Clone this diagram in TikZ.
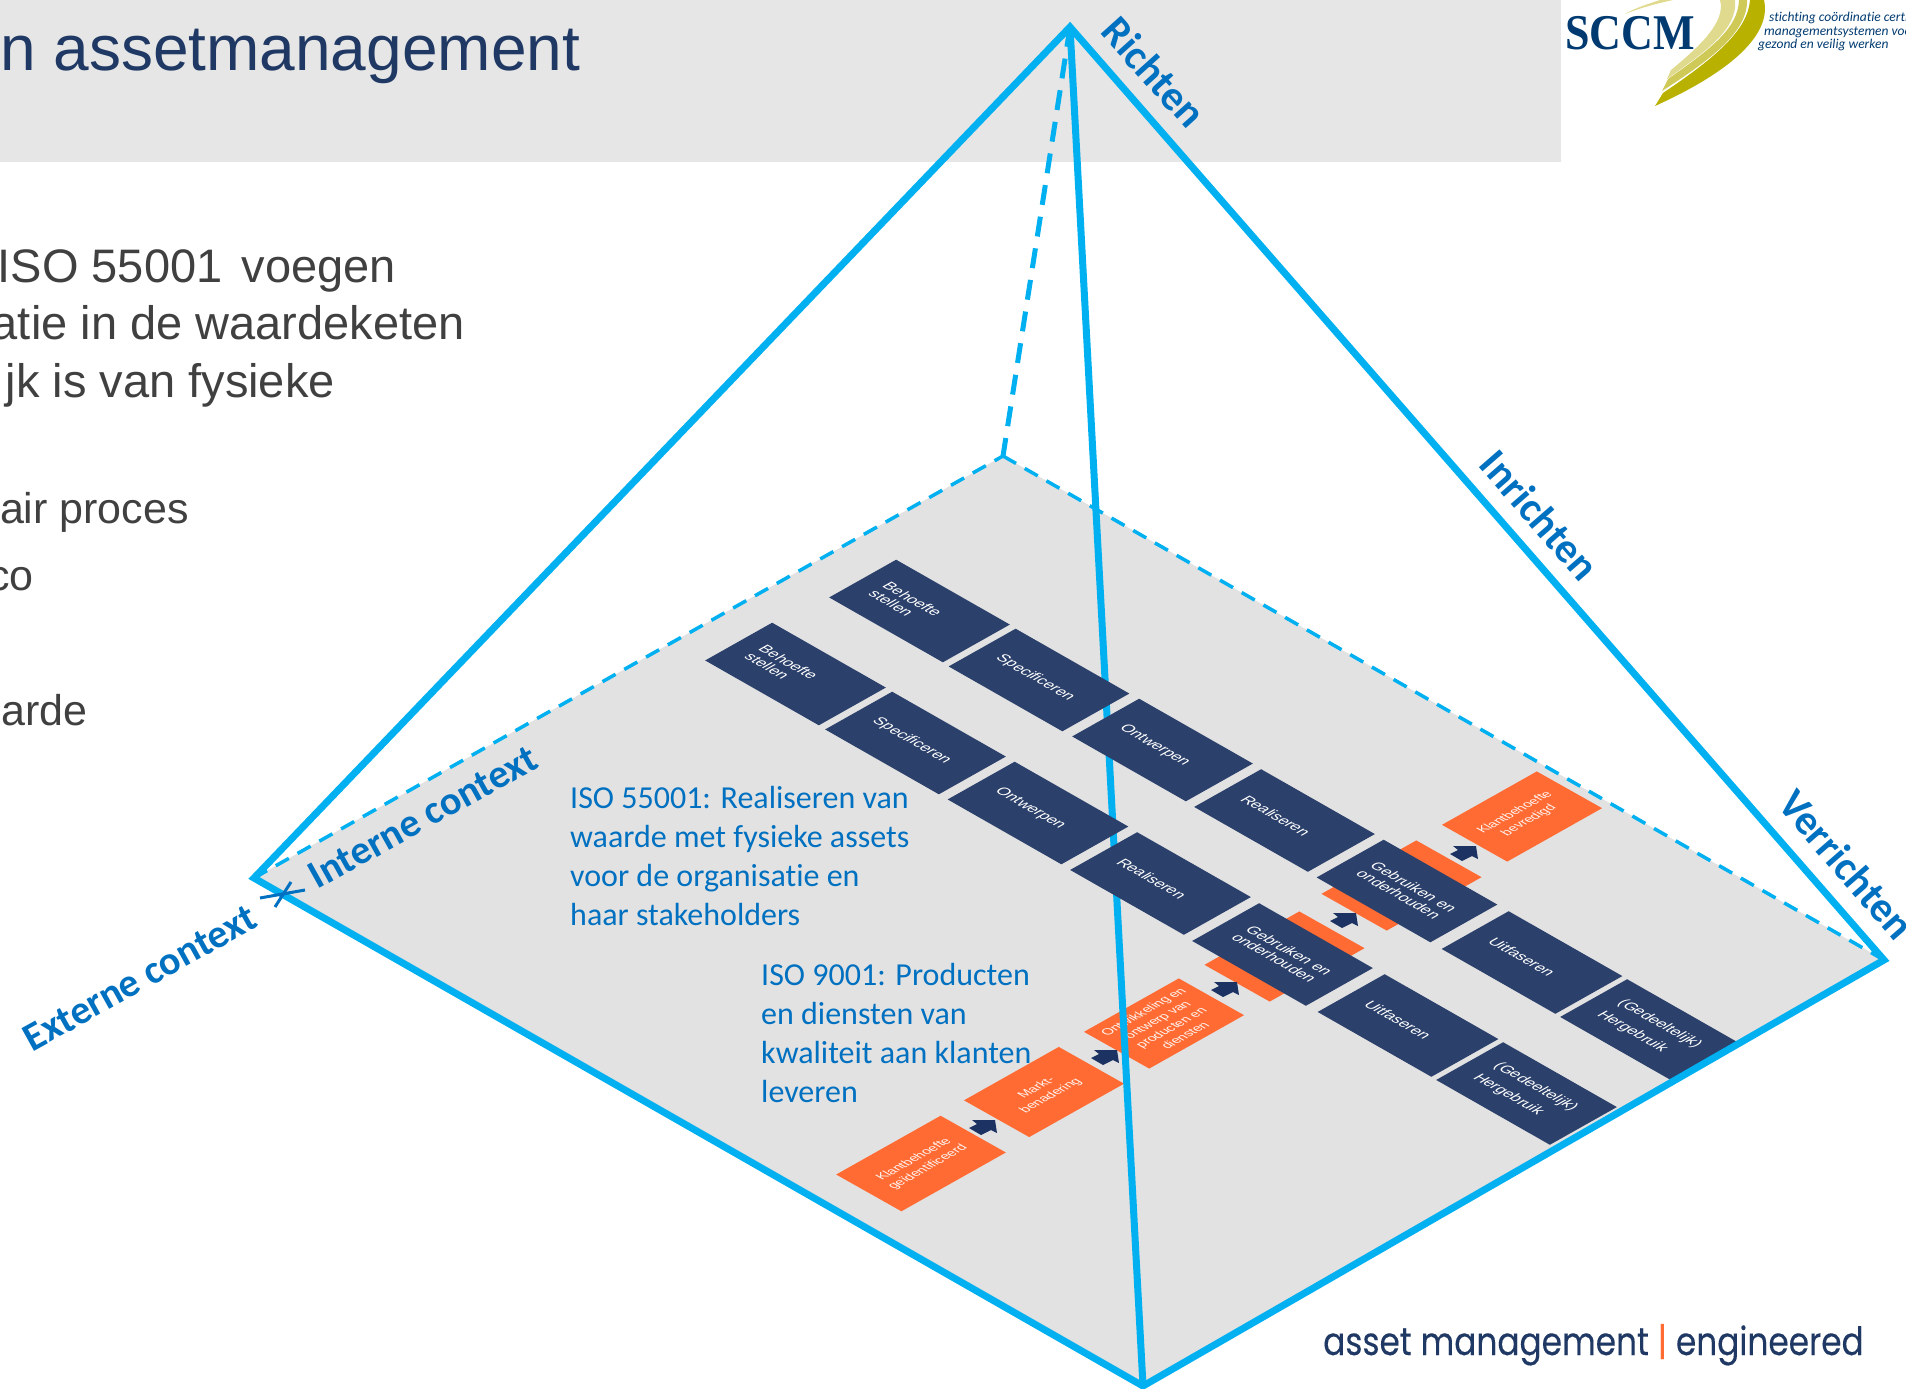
\documentclass[tikz,border=0pt]{standalone}
\usepackage{fontspec}
\usepackage{graphicx}
\setmainfont{Liberation Sans}
\newfontfamily\carl[Ligatures=NoCommon]{Carlito}
\newfontfamily\serifl{Liberation Serif}
\newfontfamily\popp[FakeBold=.2]{Poppins}
\definecolor{hdr}{HTML}{E6E6E6}
\definecolor{plane}{HTML}{E2E2E2}
\definecolor{pyr}{HTML}{00B0F0}
\definecolor{lbl}{HTML}{0070C0}
\definecolor{titlec}{HTML}{1F3864}
\definecolor{bodyc}{HTML}{404040}
\definecolor{dark}{HTML}{2B406B}
\definecolor{orng}{HTML}{FF6B33}
\definecolor{arrc}{HTML}{1B3263}
\definecolor{sccmc}{HTML}{003A70}
\definecolor{swa}{HTML}{B9B100}
\definecolor{swb}{HTML}{CFC957}
\definecolor{swc}{HTML}{DFDA8E}
\tikzset{
 solidedge/.style={pyr,line width=7pt,line join=miter},
 dashthick/.style={pyr,line width=5pt,dash pattern=on 20pt off 12pt},
 dashthin/.style={pyr,line width=3.5pt,dash pattern=on 15pt off 10pt},
 darkcell/.style={fill=dark,text=white,inner sep=0pt,inner xsep=19pt,text width=93pt,minimum height=77pt,align=left,font=\fontsize{15.3}{16}\selectfont},
 orangecell/.style={fill=orng,text=white!92!orng,inner sep=0pt,minimum height=75pt,align=center,font=\fontsize{13}{16}\selectfont},
 bodyline/.style={text=bodyc,anchor=base east,inner sep=0pt,font=\fontsize{47}{50}\selectfont},
 subline/.style={text=bodyc,anchor=base east,inner sep=0pt,font=\fontsize{43}{46}\selectfont},
 bluetext/.style={text=lbl,anchor=west,inner sep=0pt,font=\carl\fontsize{32}{38.7}\selectfont,align=left},
 axislabel/.style={text=lbl,inner sep=0pt,font=\carl\bfseries\fontsize{42}{44}\selectfont},
 contextlabel/.style={axislabel,font=\carl\bfseries\fontsize{40}{42}\selectfont},
 taglabel/.style={text=sccmc,anchor=west,inner sep=0pt,font=\carl\itshape\fontsize{13.5}{15}\selectfont},
}
\newcommand\darkbox[4]{\begin{scope}[shift={(#2,#3)},cm={.868,-.495,.87,.49,(0,0)}]\node[darkcell,transform shape] (#1) at (0,0) {#4};\end{scope}}
\newcommand\orangebox[5]{\begin{scope}[shift={(#2,#3)},cm={.87,.49,-.87,.49,(0,0)}]\node[orangecell,transform shape,minimum width=#4pt] (#1) at (0,0) {#5};\end{scope}}
\newcommand\navyarrow[2]{\fill[arrc,shift={(#1,#2)}] (-14,1) -- (-6,-3) -- (-11,-7) -- (12,-7) -- (14,6) -- (8,3) -- (-2,8) -- cycle;}
\begin{document}
\begin{tikzpicture}[x=1pt,y=-1pt]
\useasboundingbox (0,0) rectangle (1906,1389);
\begin{scope}
\clip (0,0) rectangle (1906,1389);
\fill[hdr] (0,0) rectangle (1561,162);
\node[text=titlec,anchor=west,inner sep=0pt,font=\fontsize{64}{66}\selectfont] (title) at (0,56) {n assetmanagement};
% body text
\node[bodyline] (b1) at (396,282) {ISO 55001\hspace{6pt} voegen};
\node[bodyline] (b2) at (465,339.5) {atie in de waardeketen};
\node[bodyline] (b3) at (335,397) {jk is van fysieke};
\node[subline] (b4) at (189,523) {air proces};
\node[subline] (b5) at (34,590) {co};
\node[subline] (b6) at (88,725) {arde};
% logo
\fill[swa] (1655,106) .. controls (1730,72) and (1772,35) .. (1764,0) -- (1750,0) .. controls (1748,30) and (1715,58) .. (1663,93) -- cycle;
\fill[swb] (1662,91) .. controls (1710,60) and (1748,32) .. (1747,0) -- (1739,0) .. controls (1738,28) and (1712,48) .. (1668,79) -- cycle;
\fill[swc] (1667,79) .. controls (1708,50) and (1738,28) .. (1735,0) -- (1720,0) .. controls (1726,22) and (1700,46) .. (1671,70) -- cycle;
\fill[swc] (1625,14) .. controls (1640,8) and (1655,4) .. (1673,0) -- (1660,0) .. controls (1648,4) and (1635,8) .. cycle;
\node[text=sccmc,inner sep=0pt,font=\serifl\bfseries\fontsize{50}{52}\selectfont] (sccm) at (1630,33) {\scalebox{.88}[1]{SCCM}};
\node[taglabel] (tag1) at (1769,18) {stichting coördinatie certi};
\node[taglabel] (tag2) at (1764,32) {managementsystemen voo};
\node[taglabel] (tag3) at (1758,45) {gezond en veilig werken};
% pyramid corners
\coordinate (apex) at (1070,27);
\coordinate (left) at (254,878);
\coordinate (back) at (1003,456);
\coordinate (right) at (1884,960);
\coordinate (front) at (1143,1386);
\fill[plane] (left) -- (back) -- (right) -- (front) -- cycle;
\draw[dashthin] (left) -- (back);
\draw[dashthin] (back) -- (right);
\draw[dashthick] (apex) -- (back);
% orange cards under the pyramid edge
\orangebox{oa}{921}{1163.5}{120}{Klantbehoefte\\geïdentificeerd}
\orangebox{ob}{1044}{1092}{109}{Markt-\\benadering}
\orangebox{oc}{1164}{1023.5}{109}{Ontwikkeling en\\ontwerp van\\producten en\\diensten}
\orangebox{od}{1284.5}{956.5}{109}{}
\orangebox{oe}{1401.5}{885.5}{109}{}
\orangebox{of}{1522}{816.5}{109}{Klantbehoefte\\bevredigd}
\navyarrow{983}{1127}
\navyarrow{1105}{1057}
\navyarrow{1225}{989}
\navyarrow{1344}{920}
\navyarrow{1464}{853}
\draw[solidedge] (apex) -- (front);
% dark cards
\darkbox{la}{795.5}{674}{Behoefte\\stellen}
\darkbox{lb}{915.5}{743}{Specificeren}
\darkbox{lc}{1038}{813}{Ontwerpen}
\darkbox{ld}{1160.5}{883.5}{Realiseren}
\darkbox{le}{1282.5}{954.5}{Gebruiken en\\onderhouden}
\darkbox{lf}{1408}{1025.5}{Uitfaseren}
\darkbox{lg}{1526.5}{1093.5}{(Gedeeltelijk)\\[8pt]Hergebruik}
\darkbox{ua}{919.5}{611}{Behoefte\\stellen}
\darkbox{ub}{1039}{680}{Specificeren}
\darkbox{uc}{1162.5}{750}{Ontwerpen}
\darkbox{ud}{1284.5}{820.5}{Realiseren}
\darkbox{ue}{1407}{891}{Gebruiken en\\onderhouden}
\darkbox{uf}{1532}{962.5}{Uitfaseren}
\darkbox{ug}{1650.5}{1030.5}{(Gedeeltelijk)\\[8pt]Hergebruik}
% pyramid edges
\draw[solidedge] (front) -- (left) -- (apex) -- (right) -- (front) -- cycle;
% labels
\node[bluetext] (iso55) at (570,856) {ISO 55001: Realiseren van\\waarde met fysieke assets\\voor de organisatie en\\haar stakeholders};
\node[bluetext] (iso9) at (761,1033) {ISO 9001: Producten\\en diensten van\\kwaliteit aan klanten\\leveren};
\node[axislabel,rotate=-48] (richten) at (1154,72) {Richten};
\node[axislabel,rotate=-49] (inrichten) at (1540,515) {Inrichten};
\node[axislabel,rotate=-49,anchor=west] (verrichten) at (1787,796) {Verrichten};
\node[contextlabel,rotate=29] (interne) at (423,817) {Interne context};
\node[contextlabel,rotate=29] (externe) at (140,978) {Externe context};
\coordinate (xa) at (260,898); \coordinate (xb) at (305,890);
\coordinate (xc) at (275,907); \coordinate (xd) at (291,882);
\draw[lbl,line width=3pt] (xa) -- (xb);
\draw[lbl,line width=3pt] (xc) -- (xd);
\node[anchor=base west,inner sep=0pt,text=titlec,font=\popp\fontsize{39}{41}\selectfont] (foot) at (1323,1355) {\scalebox{.84}[1]{asset management \textcolor{orng}{|} engineered}};
\end{scope}
\end{tikzpicture}
\end{document}
